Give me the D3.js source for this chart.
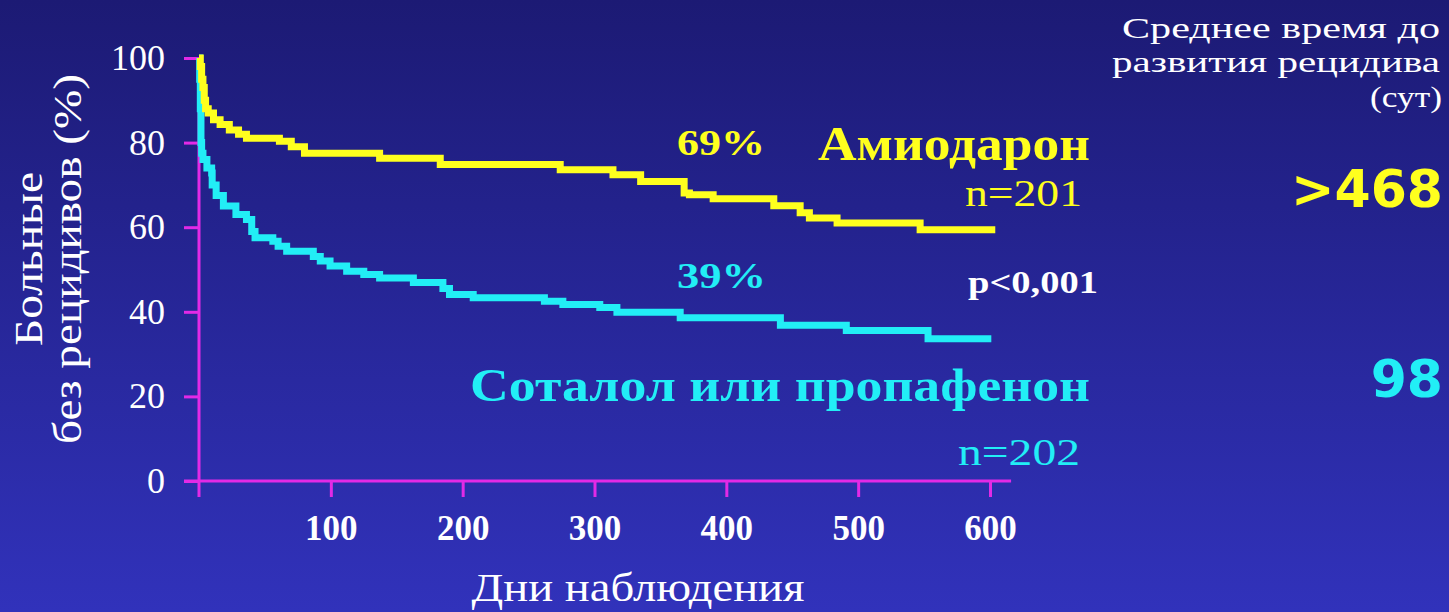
<!DOCTYPE html>
<html><head><meta charset="utf-8">
<script src="https://cdn.jsdelivr.net/npm/d3@7"></script>
<style>html,body{margin:0;padding:0;overflow:hidden;background:#26269a}</style>
</head><body><svg id="chart" width="1449" height="612"></svg>
<script>
// Kaplan–Meier curves: days of follow-up vs. % of patients free of recurrence
const amioDays = [0, 1, 2, 3, 4, 5, 7, 11, 16, 23, 30, 36, 61, 70, 80, 137, 183, 274, 314, 335, 368, 372, 390, 436, 456, 463, 484, 547, 604];
const amioSurv = [100, 98, 95, 93, 90, 88, 87, 85.4, 84.3, 83, 82, 81, 80.3, 79, 77.5, 76.3, 74.8, 73.6, 72.4, 70.8, 68.1, 67.7, 66.7, 65.1, 63.4, 62.2, 61.0, 59.4, 59.4];

const sotDays = [0, 0.5, 1, 1.5, 2, 3, 6, 9.6, 10, 13, 18.5, 28, 36, 40, 42.5, 56, 60, 66.5, 86.7, 92, 99.4, 112, 125, 137, 162.6, 185, 190, 208, 262, 276, 304, 317, 365, 441, 491, 553, 601];
const sotSurv = [100, 95, 88, 80, 77.5, 76, 74, 72.8, 70, 67.5, 65, 63, 61.8, 59, 57.5, 56.7, 55.5, 54.3, 53.1, 52, 50.8, 49.6, 48.8, 48, 46.9, 45.5, 44.1, 43.3, 42.5, 41.7, 41, 39.9, 38.6, 36.8, 35.6, 33.6, 33.6];

const yTicks = [0, 20, 40, 60, 80, 100];
const xTicks = [100, 200, 300, 400, 500, 600];

const W = 1449, H = 612;
const MAG = '#e22ae6';
const YEL = '#ffff1e';
const CYA = '#22eef6';
const SERIF = '"Liberation Serif", "Times New Roman", serif';
const SANS = '"DejaVu Sans", sans-serif';

const svg = d3.select('#chart');
const defs = svg.append('defs');
const grad = defs.append('linearGradient').attr('id', 'bg')
  .attr('x1', 0).attr('y1', 0).attr('x2', 0).attr('y2', 1);
grad.append('stop').attr('offset', '0%').attr('stop-color', '#1c1a74');
grad.append('stop').attr('offset', '100%').attr('stop-color', '#3132bb');
svg.append('rect').attr('width', W).attr('height', H).attr('fill', 'url(#bg)');

const x = d3.scaleLinear().domain([0, 600]).range([199, 990]);
const y = d3.scaleLinear().domain([0, 100]).range([481, 58]);

// axis lines
svg.append('line').attr('x1', x(0)).attr('x2', x(0)).attr('y1', y(100)).attr('y2', y(0) + 16)
  .attr('stroke', MAG).attr('stroke-width', 3);
svg.append('line').attr('x1', x(0) - 15).attr('x2', x(616)).attr('y1', y(0)).attr('y2', y(0))
  .attr('stroke', MAG).attr('stroke-width', 3);

// y axis ticks
const gy = svg.append('g').attr('transform', `translate(${x(0)},0)`)
  .call(d3.axisLeft(y).tickValues(yTicks).tickSize(15).tickPadding(19).tickFormat(d3.format('d')));
gy.select('.domain').remove();
gy.selectAll('.tick line').attr('stroke', MAG).attr('stroke-width', 3);
gy.selectAll('.tick text').attr('fill', '#fff')
  .style('font-family', SERIF).style('font-size', '36px');

// x axis ticks
const gx = svg.append('g').attr('transform', `translate(0,${y(0)})`)
  .call(d3.axisBottom(x).tickValues(xTicks).tickSize(16).tickPadding(18).tickFormat(d3.format('d')));
gx.select('.domain').remove();
gx.selectAll('.tick line').attr('stroke', MAG).attr('stroke-width', 3);
gx.selectAll('.tick text').attr('fill', '#fff')
  .style('font-family', SERIF).style('font-size', '35px').style('font-weight', 'bold');

// curves
const line = d3.line().x(d => x(d[0])).y(d => y(d[1])).curve(d3.curveStepAfter);
const amio = d3.zip(amioDays, amioSurv);
const sot = d3.zip(sotDays, sotSurv);
svg.append('path').datum(sot).attr('d', line).attr('fill', 'none')
  .attr('stroke', CYA).attr('stroke-width', 7).attr('stroke-linejoin', 'miter');
svg.append('path').datum(amio).attr('d', line).attr('fill', 'none')
  .attr('stroke', YEL).attr('stroke-width', 7).attr('stroke-linejoin', 'miter');

// text helper: font size sets glyph height, len sets the drawn width
function label(txt, xx, yy, size, color, opts) {
  const o = opts || {};
  const t = svg.append('text').attr('x', xx).attr('y', yy)
    .attr('text-anchor', o.anchor || 'start').attr('fill', color)
    .style('font-family', o.family || SERIF).style('font-size', size + 'px')
    .style('font-weight', o.weight || 'normal').text(txt);
  if (o.len) t.attr('textLength', o.len).attr('lengthAdjust', o.adjust || 'spacingAndGlyphs');
  return t;
}

// axis titles
label('Дни наблюдения', 638, 601, 41, '#fff', { anchor: 'middle', len: 333 });
const yt = svg.append('g').attr('transform', 'translate(0,259) rotate(-90)');
yt.append('text').attr('x', 0).attr('y', 42).attr('text-anchor', 'middle').attr('fill', '#fff')
  .style('font-family', SERIF).style('font-size', '40px')
  .attr('textLength', 174).attr('lengthAdjust', 'spacingAndGlyphs').text('Больные');
yt.append('text').attr('x', 0).attr('y', 81).attr('text-anchor', 'middle').attr('fill', '#fff')
  .style('font-family', SERIF).style('font-size', '40px')
  .attr('textLength', 370).attr('lengthAdjust', 'spacingAndGlyphs').text('без рецидивов (%)');

// series labels
label('69%', 677, 155, 35, YEL, { weight: 'bold', len: 88 });
label('Амиодарон', 818, 160, 48, YEL, { weight: 'bold', len: 272 });
label('n=201', 965, 206, 38, YEL, { len: 117 });
label('39%', 677, 288, 35, CYA, { weight: 'bold', len: 89 });
label('p<0,001', 968, 293, 31, '#fff', { weight: 'bold', len: 130 });
label('Соталол или пропафенон', 470, 401, 46, CYA, { weight: 'bold', len: 620 });
label('n=202', 958, 465, 38, CYA, { len: 122 });

// median time to recurrence
label('Среднее время до', 1122, 38, 30, '#fff', { len: 318 });
label('развития рецидива', 1112, 72, 30, '#fff', { len: 328 });
label('(сут)', 1442, 107, 30, '#fff', { anchor: 'end', len: 72 });
label('>468', 1443, 207, 52, YEL, { weight: 'bold', anchor: 'end', family: SANS });
label('98', 1443, 397, 52, CYA, { weight: 'bold', anchor: 'end', family: SANS });
</script>
</body></html>
